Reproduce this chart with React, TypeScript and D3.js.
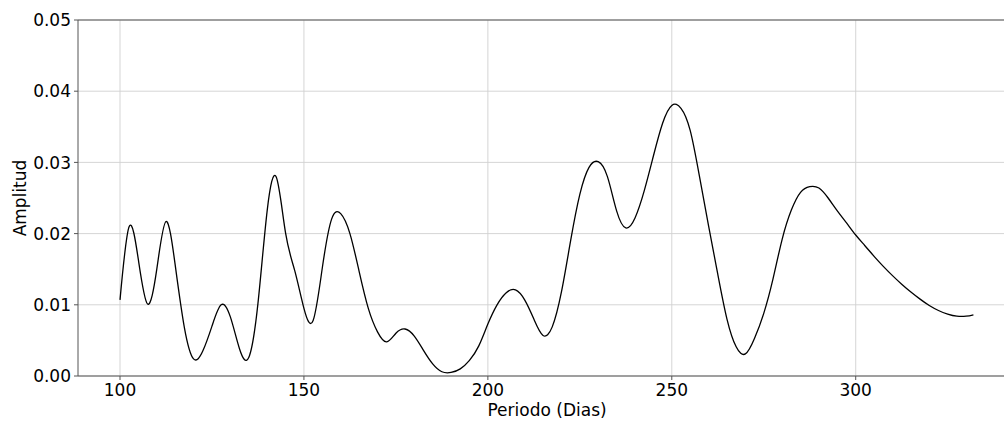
import React from "react";
import * as d3 from "d3";

// Periodogram: period (days) sampled every 2.5 days, with its amplitude
const periods = [
  100, 102.5, 105, 107.5, 110, 112.5, 115, 117.5, 120, 122.5,
  125, 127.5, 130, 132.5, 135, 137.5, 140, 142.5, 145, 147.5,
  150, 152.5, 155, 157.5, 160, 162.5, 165, 167.5, 170, 172.5,
  175, 177.5, 180, 182.5, 185, 187.5, 190, 192.5, 195, 197.5,
  200, 202.5, 205, 207.5, 210, 212.5, 215, 217.5, 220, 222.5,
  225, 227.5, 230, 232.5, 235, 237.5, 240, 242.5, 245, 247.5,
  250, 252.5, 255, 257.5, 260, 262.5, 265, 267.5, 270, 272.5,
  275, 277.5, 280, 282.5, 285, 287.5, 290, 292.5, 295, 297.5,
  300, 302.5, 305, 307.5, 310, 312.5, 315, 317.5, 320, 322.5,
  325, 327.5, 330, 332,
];
const amplitudes = [
  0.0107, 0.0210, 0.0163, 0.0101, 0.0150, 0.0217, 0.0156, 0.0068, 0.0024, 0.0035,
  0.0070, 0.0100, 0.0083, 0.0038, 0.0026, 0.0102, 0.0232, 0.0279, 0.0201, 0.0148,
  0.0095, 0.0078, 0.0152, 0.0220, 0.0228, 0.0200, 0.0147, 0.0095, 0.0062, 0.0048,
  0.0060, 0.0066, 0.0056, 0.0036, 0.0017, 0.0006, 0.0005, 0.0010, 0.0022, 0.0042,
  0.0073, 0.0100, 0.0117, 0.0121, 0.0107, 0.0080, 0.0057, 0.0069, 0.0118, 0.0190,
  0.0255, 0.0293, 0.0301, 0.0280, 0.0232, 0.0208, 0.0222, 0.0260, 0.0309, 0.0355,
  0.0380, 0.0376, 0.0345, 0.0281, 0.0211, 0.0143, 0.0080, 0.0041, 0.0031, 0.0053,
  0.0088, 0.0136, 0.0192, 0.0233, 0.0258, 0.0266, 0.0264, 0.0250, 0.0232, 0.0215,
  0.0198, 0.0183, 0.0168, 0.0154, 0.0141, 0.0129, 0.0118, 0.0108, 0.0099, 0.0092,
  0.0087, 0.0084, 0.0084, 0.0086,
];
const xTicks = [100, 150, 200, 250, 300];
const yTicks = [0, 0.01, 0.02, 0.03, 0.04, 0.05];

const W = 1004;
const H = 421;
const left = 78;
const right = 1016.1;
const top = 20;
const bottom = 376;

export default function App() {
  const x = d3.scaleLinear().domain([88.58, 343.6]).range([left, right]);
  const y = d3.scaleLinear().domain([0, 0.05]).range([bottom, top]);
  const pts: [number, number][] = periods.map((p, i) => [p, amplitudes[i]]);
  const line = d3
    .line<[number, number]>()
    .x((d) => x(d[0]))
    .y((d) => y(d[1]))
    .curve(d3.curveNatural);
  const font = "DejaVu Sans, sans-serif";
  const fmt = d3.format(".2f");
  const fs = 17;

  return (
    <svg
      width={W}
      height={H}
      style={{ position: "fixed", left: 0, top: 0, background: "#fff" }}
      fontFamily={font}
    >
      <rect width={W} height={H} fill="#fff" />
      <defs>
        <clipPath id="plot">
          <rect x={left} y={top} width={right - left} height={bottom - top} />
        </clipPath>
      </defs>
      {/* grid */}
      {xTicks.map((t) => (
        <line key={"gx" + t} x1={x(t)} x2={x(t)} y1={top} y2={bottom} stroke="#d0d0d0" strokeWidth={0.9} />
      ))}
      {yTicks.map((t) => (
        <line key={"gy" + t} x1={left} x2={right} y1={y(t)} y2={y(t)} stroke="#d0d0d0" strokeWidth={0.9} />
      ))}
      {/* series */}
      <path d={line(pts) || ""} fill="none" stroke="#000" strokeWidth={1.3} clipPath="url(#plot)" />
      {/* spines */}
      <line x1={left} x2={left} y1={top} y2={bottom} stroke="#555" strokeWidth={1} />
      <line x1={left} x2={right} y1={bottom} y2={bottom} stroke="#555" strokeWidth={1} />
      <line x1={left} x2={right} y1={top} y2={top} stroke="#555" strokeWidth={1} />
      <line x1={right} x2={right} y1={top} y2={bottom} stroke="#555" strokeWidth={1} />
      {/* x ticks */}
      {xTicks.map((t) => (
        <g key={"xt" + t}>
          <line x1={x(t)} x2={x(t)} y1={bottom} y2={bottom + 4} stroke="#555" strokeWidth={1} />
          <text x={x(t)} y={396} textAnchor="middle" fontSize={fs} fill="#000">
            {t}
          </text>
        </g>
      ))}
      {/* y ticks */}
      {yTicks.map((t) => (
        <g key={"yt" + t}>
          <line x1={left - 4} x2={left} y1={y(t)} y2={y(t)} stroke="#555" strokeWidth={1} />
          <text x={left - 7} y={y(t) + 6.2} textAnchor="end" fontSize={fs} fill="#000">
            {fmt(t)}
          </text>
        </g>
      ))}
      <text x={(left + right) / 2} y={416} textAnchor="middle" fontSize={fs} fill="#000">
        Periodo (Dias)
      </text>
      <text
        transform={`translate(26, ${(top + bottom) / 2}) rotate(-90)`}
        textAnchor="middle"
        fontSize={fs}
        fill="#000"
      >
        Amplitud
      </text>
    </svg>
  );
}
